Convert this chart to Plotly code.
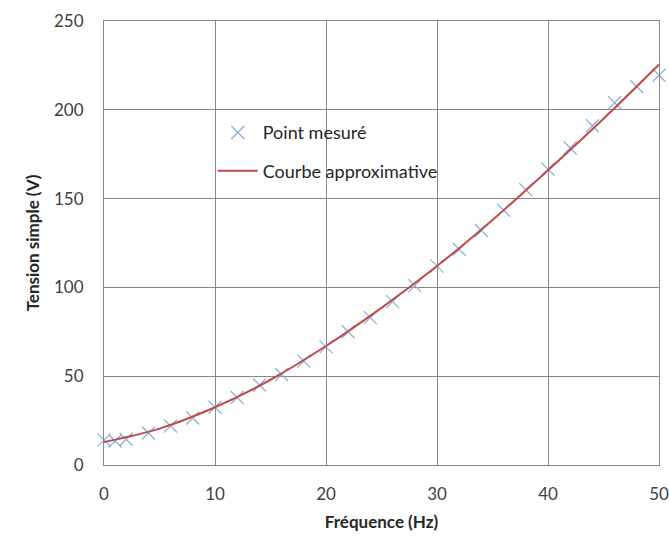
import plotly.graph_objects as go

# Measured points
freq_meas = [0, 1, 2, 4, 6, 8, 10, 12, 14, 16, 18, 20, 22, 24, 26, 28, 30,
             32, 34, 36, 38, 40, 42, 44, 46, 48, 50]
volt_meas = [14, 13.5, 14.5, 18, 22, 26.5, 32.5, 38, 45, 51, 58.5, 66.5, 75,
             83, 92, 101, 112, 121.5, 132, 143.5, 155, 166.5, 178.5, 191, 204,
             213, 219.5]

# Approximating curve
freq_fit = [0, 5, 10, 15, 20, 25, 30, 35, 40, 45, 50]
volt_fit = [13, 20.5, 32.5, 48, 67, 88.5, 112, 138, 166, 195, 225.5]

x_ticks = [0, 10, 20, 30, 40, 50]
y_ticks = [0, 50, 100, 150, 200, 250]

FONT = "Lato, Open Sans, sans-serif"
GRID = "#878787"

fig = go.Figure()
fig.add_trace(go.Scatter(
    x=freq_meas, y=volt_meas, mode="markers", name="Point mesuré",
    marker=dict(symbol="x-thin", size=13, line=dict(color="#8FB0D8", width=1.3)),
    cliponaxis=False, legendgroup="a",
))
fig.add_trace(go.Scatter(
    x=freq_fit, y=volt_fit, mode="lines", name="Courbe approximative",
    line=dict(color="#BE4B48", width=2, shape="spline"),
    legendgroup="b",
))

fig.update_layout(
    width=669, height=552,
    margin=dict(l=104, r=10, t=21, b=87, autoexpand=False),
    paper_bgcolor="white", plot_bgcolor="white",
    font=dict(family=FONT, size=17, color="#404040"),
    showlegend=True,
    legend=dict(
        x=0.196, y=0.79, xanchor="left", yanchor="top",
        bgcolor="rgba(0,0,0,0)", tracegroupgap=12,
        font=dict(family=FONT, size=18, color="#262626"),
        itemwidth=40,
    ),
    xaxis=dict(
        range=[0, 50], tickvals=x_ticks, showgrid=True, gridcolor=GRID, gridwidth=1,
        showline=True, linecolor=GRID, linewidth=1, mirror=True, zeroline=False,
        ticks="", tickfont=dict(size=17, color="#404040"), ticklabelstandoff=14,
        automargin=False,
        title=dict(text="<b>Fréquence (Hz)</b>", font=dict(size=17, color="#262626"), standoff=12),
    ),
    yaxis=dict(
        range=[0, 250], tickvals=y_ticks, showgrid=True, gridcolor=GRID, gridwidth=1,
        showline=True, linecolor=GRID, linewidth=1, mirror=True, zeroline=False,
        ticks="", tickfont=dict(size=17, color="#404040"), ticklabelstandoff=16,
        automargin=False,
        title=dict(text="<b>Tension simple (V)</b>", font=dict(size=17, color="#262626"), standoff=10),
    ),
)

fig.write_html(
    "out.html",
    config={"displayModeBar": False},
    post_script="document.body.style.margin='0';document.body.style.overflow='hidden';",
)
